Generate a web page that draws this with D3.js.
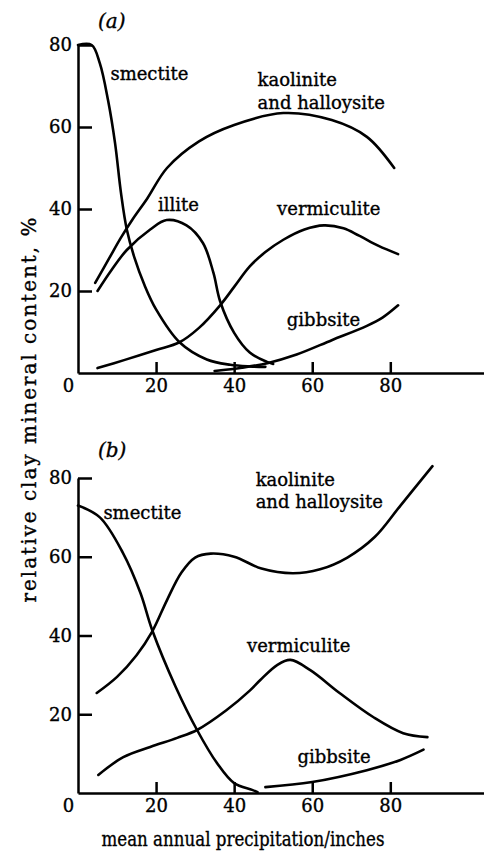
<!DOCTYPE html>
<html lang="en">
	<head>
		<meta charset="utf-8">
		<title>Clay minerals vs precipitation</title>
		<script type="text/javascript" src="https://cdn.jsdelivr.net/npm/d3@7"></script>
		<style type="text/css">
			body { margin: 0; background: #fff; }
			text { font-family: "DejaVu Serif", serif; fill: #000; stroke: #000; stroke-width: 0.35px; }
		</style>
	</head>
	<body>
		<script type="text/javascript">

			//Width and height
			var w = 484;
			var h = 856;

			//Tick labels
			var xTicks = [0, 20, 40, 60, 80];
			var yTicks = [20, 40, 60, 80];

			//Panel (a) series: [precipitation, content %]
			var aSmectite = [[0,80],[3.5,80],[5.6,75.5],[7.7,66.5],[9.5,56],[11,44],[12.5,35],[14.5,28],[17,21.5],[20,15.5],[26,7.5],[33,3.3],[39,2],[44,1.6],[48,1.5]];
			var aIllite = [[5,20],[8.5,25],[12.5,30],[18.5,35],[22.7,37.3],[27.8,36],[32,31.7],[34.7,24.4],[36.4,17.5],[40,9.8],[44,5],[48.4,2.7],[50,2.2]];
			var aKaolinite = [[4.4,22],[8,28],[11,33],[14,37.5],[17.7,42.5],[22.8,50],[31,56.5],[40,60.5],[52.6,63.4],[65,61.7],[74,57.6],[81,50]];
			var aVermiculite = [[5,1.2],[12,3.2],[20,5.6],[26,7.5],[31,11],[36.4,16.5],[40,21],[44,26],[48,29.5],[52.6,32.5],[58,35],[63,36],[68,35.3],[72,33.5],[77,31],[82,29]];
			var aGibbsite = [[35,0.5],[42,1.3],[48.5,2.4],[56,4.5],[65,8],[74,11.5],[78,13.5],[82,16.5]];

			//Panel (b) series
			var bSmectite = [[0,73],[5.6,70],[11.5,61],[16,50.8],[19,41.4],[25,27],[30.5,16],[35.6,7.6],[40,2.5],[44.6,0.8],[46,0.2]];
			var bKaolinite = [[4.8,25.4],[10,29.5],[15,35],[19,41],[22.8,49],[26.5,56],[30,59.8],[34,60.8],[40,60],[47,57],[55,55.8],[62,56.8],[69,59.8],[76,65],[82.6,73],[90.8,83]];
			var bVermiculite = [[5.2,4.6],[11.6,9.1],[18.5,11.7],[25.4,14],[30.5,16],[38,21],[44,26],[46.7,28.7],[51,32.5],[54.4,33.8],[59.5,31.2],[67,25.4],[75.6,19.3],[83.3,15.2],[89.5,14.2]];
			var bGibbsite = [[48,1.5],[60,2.8],[74,5.8],[82.6,8.4],[88.5,11]];

			//Curve labels: [text, x, y] in data units
			var aLabels = [["smectite", 8.3, 71.5], ["kaolinite", 46, 70], ["and halloysite", 46, 64.5], ["illite", 20.5, 39.5], ["vermiculite", 51, 38.5], ["gibbsite", 53.5, 11.5]];
			var bLabels = [["smectite", 6.5, 69.5], ["kaolinite", 45.5, 78], ["and halloysite", 45.5, 72.5], ["vermiculite", 43.3, 35.8], ["gibbsite", 56.2, 7.5]];

			var svg = d3.select("body")
						.append("svg")
						.attr("width", w)
						.attr("height", h);

			//Shared x scale, axis line runs to the right edge
			var x = d3.scaleLinear().domain([0, 104]).range([78, 484]);

			var line = function(y) {
				return d3.line()
					.x(function(d) { return x(d[0]); })
					.y(function(d) { return y(d[1]); })
					.curve(d3.curveCatmullRom.alpha(0.5));
			};

			function panel(y, series, labels, tag, tagY) {
				var g = svg.append("g");

				//x axis with small upward ticks
				var xa = g.append("g")
					.attr("transform", "translate(0," + y(0) + ")")
					.call(d3.axisBottom(x).tickValues(xTicks).tickSizeInner(-11).tickSizeOuter(0).tickPadding(6).tickFormat(d3.format("d")));

				//y axis with inward ticks
				var ya = g.append("g")
					.attr("transform", "translate(" + x(0) + ",0)")
					.call(d3.axisLeft(y).tickValues(yTicks).tickSizeInner(-14).tickSizeOuter(0).tickPadding(6));

				[xa, ya].forEach(function(a) {
					a.selectAll("path, line").attr("stroke", "#000").attr("stroke-width", 2.5);
					a.selectAll("text").attr("font-size", 18).attr("font-family", "DejaVu Serif").attr("fill", "#000");
				});
				xa.selectAll(".tick").filter(function(d) { return d === 0; })
					.select("line").remove();
				xa.selectAll(".tick").filter(function(d) { return d === 0; })
					.select("text").attr("x", -10);

				g.selectAll("path.curve")
					.data(series)
					.enter()
					.append("path")
					.attr("class", "curve")
					.attr("d", function(d) { return line(y)(d); })
					.attr("fill", "none")
					.attr("stroke", "#000")
					.attr("stroke-width", 2.6)
					.attr("stroke-linecap", "round");

				g.selectAll("text.lbl")
					.data(labels)
					.enter()
					.append("text")
					.attr("class", "lbl")
					.attr("x", function(d) { return x(d[1]); })
					.attr("y", function(d) { return y(d[2]); })
					.attr("font-size", 18)
					.text(function(d) { return d[0]; });

				g.append("text")
					.attr("x", 98)
					.attr("y", tagY)
					.attr("font-size", 20)
					.attr("font-style", "italic")
					.text(tag);
			}

			var ya = d3.scaleLinear().domain([0, 80]).range([373, 45]);
			var yb = d3.scaleLinear().domain([0, 80]).range([793, 478]);

			panel(ya, [aSmectite, aIllite, aKaolinite, aVermiculite, aGibbsite], aLabels, "(a)", 28);
			panel(yb, [bSmectite, bKaolinite, bVermiculite, bGibbsite], bLabels, "(b)", 457);

			//Axis titles
			svg.append("text")
				.attr("transform", "translate(36,410) rotate(-90)")
				.attr("text-anchor", "middle")
				.attr("font-size", 20)
				.attr("textLength", 385)
				.attr("lengthAdjust", "spacing")
				.text("relative clay mineral content, %");

			svg.append("text")
				.attr("x", 243)
				.attr("y", 846)
				.attr("text-anchor", "middle")
				.attr("font-family", "Liberation Serif")
				.attr("font-size", 20)
				.attr("textLength", 283)
				.attr("lengthAdjust", "spacingAndGlyphs")
				.text("mean annual precipitation/inches");

		</script>
	</body>
</html>
